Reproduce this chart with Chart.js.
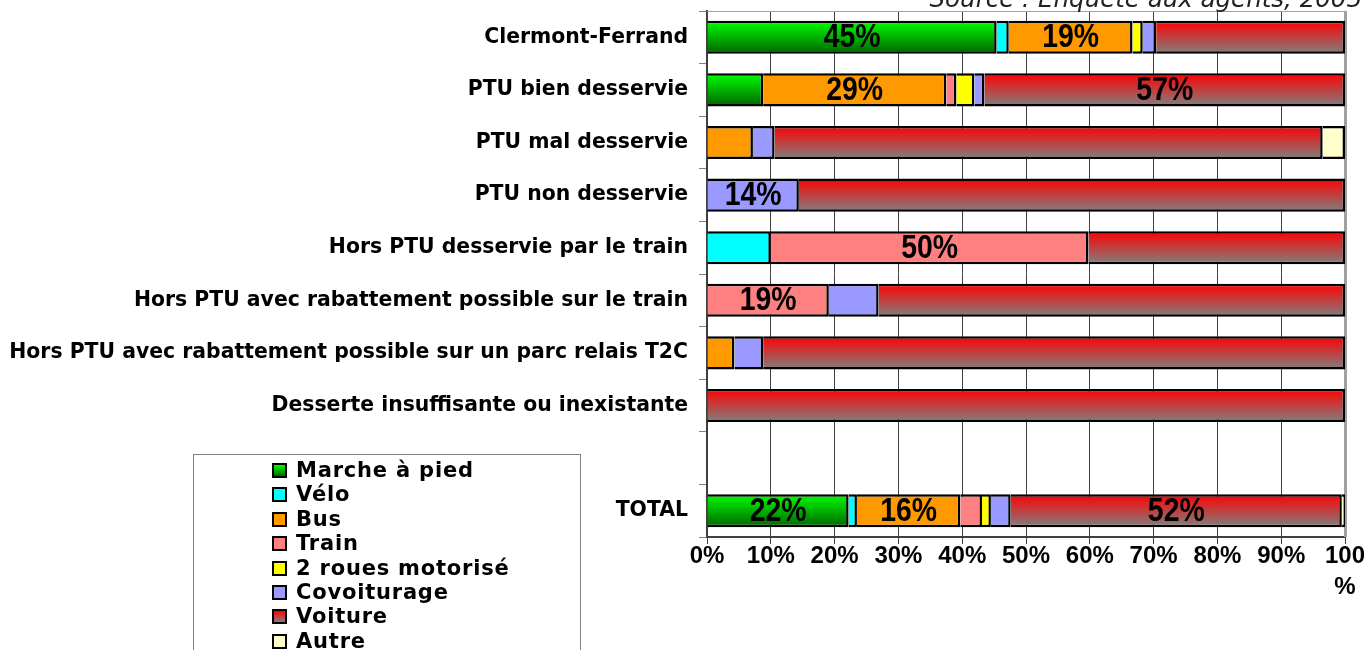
<!DOCTYPE html>
<html>
<head>
<meta charset="utf-8">
<script src="https://cdn.jsdelivr.net/npm/chart.js@4.4.1/dist/chart.umd.min.js"></script>
<style>
  body { margin: 0; background: #fff; overflow: hidden; }
  #wrap { position: relative; width: 1368px; height: 650px; }
  #source {
    position: absolute; right: 6px; top: -16px;
    font: italic 24.5px 'DejaVu Sans', sans-serif; color: #222; white-space: nowrap;
  }
  #legend {
    position: absolute; left: 193px; top: 454px; width: 388px; height: 220px;
    border: 1px solid #808080; box-sizing: border-box; padding: 3px 0 0 78px;
    font: bold 21px 'DejaVu Sans', sans-serif; letter-spacing: 0.8px; color: #000;
  }
  #legend div { height: 24.4px; line-height: 24.4px; white-space: nowrap; }
  #legend span {
    display: inline-block; width: 15px; height: 15px; border: 2px solid #000;
    box-sizing: border-box; margin-right: 9px; vertical-align: -1px;
  }
</style>
</head>
<body>
<div id="wrap">
  <canvas id="chart" width="1368" height="650"></canvas>
  <div id="source">Source : Enquête aux agents, 2005</div>
  <div id="legend"></div>
</div>
<script>
// categories (one empty row between Desserte and TOTAL)
const categories = [
  'Clermont-Ferrand',
  'PTU bien desservie',
  'PTU mal desservie',
  'PTU non desservie',
  'Hors PTU desservie par le train',
  'Hors PTU avec rabattement possible sur le train',
  'Hors PTU avec rabattement possible sur un parc relais T2C',
  'Desserte insuffisante ou inexistante',
  '',
  'TOTAL'
];

// share of each mode, in %
const marche    = [45.4,  8.8, null, null, null, null, null, null, null, 22.2];
const velo      = [ 1.9, null, null, null, 10.0, null, null, null, null,  1.3];
const bus       = [19.4, 28.7,  7.2, null, null, null,  4.3, null, null, 16.2];
const train     = [null,  1.6, null, null, 49.8, 19.1, null, null, null,  3.4];
const deuxRoues = [ 1.6,  2.8, null, null, null, null, null, null, null,  1.4];
const covoit    = [ 2.1,  1.6,  3.4, 14.4, null,  7.8,  4.5, null, null,  3.1];
const voiture   = [29.6, 56.5, 85.9, 85.6, 40.2, 73.1, 91.2,100.0, null, 51.9];
const autre     = [null, null,  3.5, null, null, null, null, null, null,  0.5];

// rows where the value is written on the bar
const labelledRows = {
  'Marche à pied': [0, 9],
  'Bus': [0, 1, 9],
  'Train': [4, 5],
  'Covoiturage': [3],
  'Voiture': [1, 9]
};

const xTicks = [0, 10, 20, 30, 40, 50, 60, 70, 80, 90, 100];

const BAR_PCT = 0.63;

// vertical gradient inside each bar
const vertGrad = (top, bottom) => (c) => {
  const chart = c.chart;
  const ys = chart.scales.y;
  if (!ys || !chart.chartArea || c.dataIndex === undefined) return top;
  const yc = ys.getPixelForValue(c.dataIndex);
  const half = ys.height / categories.length * BAR_PCT / 2;
  const g = chart.ctx.createLinearGradient(0, yc - half, 0, yc + half);
  g.addColorStop(0, top);
  g.addColorStop(1, bottom);
  return g;
};

const modes = [
  { label: 'Marche à pied', data: marche, color: vertGrad('#00ff00', '#006400'), css: 'linear-gradient(#00ff00,#006400)' },
  { label: 'Vélo', data: velo, color: '#00ffff' },
  { label: 'Bus', data: bus, color: '#ff9900' },
  { label: 'Train', data: train, color: '#ff8080' },
  { label: '2 roues motorisé', data: deuxRoues, color: '#ffff00' },
  { label: 'Covoiturage', data: covoit, color: '#9999ff' },
  { label: 'Voiture', data: voiture, color: vertGrad('#ff0000', '#808080'), css: 'linear-gradient(#ff0000,#808080)' },
  { label: 'Autre', data: autre, color: '#ffffcc' }
];

// html legend
const legendEl = document.getElementById('legend');
modes.forEach(m => {
  const row = document.createElement('div');
  const box = document.createElement('span');
  box.style.background = m.css || m.color;
  row.appendChild(box);
  row.appendChild(document.createTextNode(m.label));
  legendEl.appendChild(row);
});

const arial = "'Liberation Sans', Arial, sans-serif";

// percent labels written in the bars (slightly condensed)
const valueLabels = {
  id: 'valueLabels',
  afterDatasetsDraw(chart) {
    const ctx = chart.ctx;
    chart.data.datasets.forEach((ds, i) => {
      const rows = labelledRows[ds.label] || [];
      const meta = chart.getDatasetMeta(i);
      rows.forEach(r => {
        const el = meta.data[r];
        if (!el || ds.data[r] == null) return;
        const p = el.getCenterPoint();
        ctx.save();
        ctx.translate(p.x, p.y + 1);
        ctx.scale(0.86, 1);
        ctx.font = 'bold 33px ' + arial;
        ctx.fillStyle = '#000';
        ctx.textAlign = 'center';
        ctx.textBaseline = 'middle';
        ctx.fillText(Math.round(ds.data[r]) + '%', 0, 0);
        ctx.restore();
      });
    });
  }
};

// light grey frame on top and right of the plot
const plotFrame = {
  id: 'plotFrame',
  beforeDatasetsDraw(chart) {
    const a = chart.chartArea;
    const ctx = chart.ctx;
    ctx.save();
    ctx.strokeStyle = '#a0a0a0';
    ctx.lineWidth = 1;
    ctx.beginPath();
    ctx.moveTo(a.left, a.top + 0.5);
    ctx.lineTo(a.right, a.top + 0.5);
    ctx.stroke();
    ctx.lineWidth = 3;
    ctx.beginPath();
    ctx.moveTo(a.right + 0.5, a.top);
    ctx.lineTo(a.right + 0.5, a.bottom);
    ctx.stroke();
    ctx.restore();
  }
};

new Chart(document.getElementById('chart'), {
  type: 'bar',
  data: {
    labels: categories,
    datasets: modes.map(m => ({
      label: m.label,
      data: m.data,
      backgroundColor: m.color,
      borderColor: '#000',
      borderWidth: 2.5,
      barPercentage: BAR_PCT,
      categoryPercentage: 1
    }))
  },
  options: {
    indexAxis: 'y',
    responsive: false,
    animation: false,
    layout: { padding: { top: 11, right: 23, left: 0, bottom: 0 } },
    plugins: {
      legend: { display: false },
      tooltip: { enabled: false }
    },
    scales: {
      x: {
        stacked: true,
        min: 0,
        max: 100,
        afterBuildTicks: (axis) => { axis.ticks = xTicks.map(v => ({ value: v })); },
        afterFit: (axis) => { axis.height = 113; axis.paddingLeft = 0; axis.paddingRight = 0; },
        grid: { color: '#404040', lineWidth: 1, tickLength: 7 },
        border: { color: '#404040', width: 2 },
        ticks: {
          autoSkip: false,
          maxRotation: 0,
          padding: -3,
          color: '#000',
          font: { family: arial, size: 24, weight: 'bold', lineHeight: 1.3 },
          callback: (v) => v === 100 ? ['100', '%'] : v + '%'
        }
      },
      y: {
        stacked: true,
        afterFit: (axis) => { axis.width = 707; axis.paddingTop = 0; axis.paddingBottom = 0; },
        grid: { drawOnChartArea: false, color: '#808080', tickLength: 8, offset: true },
        border: { color: '#404040', width: 2 },
        ticks: {
          padding: 11,
          color: '#000',
          font: { family: "'DejaVu Sans', sans-serif", size: 20.4, weight: 'bold' }
        }
      }
    }
  },
  plugins: [plotFrame, valueLabels]
});
</script>
</body>
</html>
